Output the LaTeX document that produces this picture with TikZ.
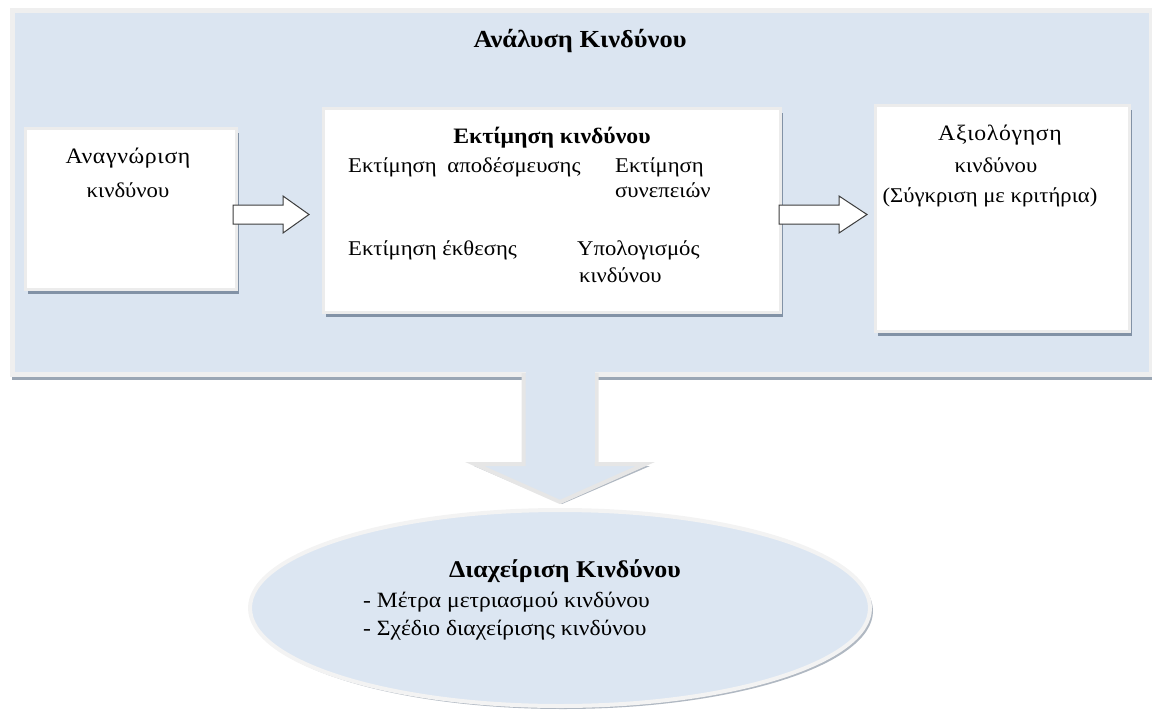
\documentclass[tikz,border=0pt]{standalone}
\usepackage{fontspec}
\setmainfont{Liberation Serif}[FakeStretch=1.08]
\usetikzlibrary{calc,shapes.geometric,shadows}
\definecolor{panelc}{HTML}{DBE5F1}
\definecolor{paneledge}{HTML}{EFEFEF}
\definecolor{panelshadow}{HTML}{9AA6B4}
\definecolor{boxedge}{HTML}{ECECEC}
\definecolor{boxshadow}{HTML}{8292A6}
\definecolor{arrowline}{HTML}{3C3C3C}
\definecolor{ellc}{HTML}{DCE6F2}
\definecolor{elledge}{HTML}{F3F3F3}
\definecolor{ellshadow}{HTML}{B0B8C2}
\definecolor{darrowedge}{HTML}{E6E6E6}
\begin{document}
\begin{tikzpicture}[x=1pt,y=-1pt,
  panelbox/.style={draw=paneledge, line width=5pt, fill=panelc, anchor=north west, inner sep=0pt},
  stagebox/.style={draw=boxedge, line width=3pt, fill=white, anchor=north west, inner sep=0pt,
    drop shadow={shadow xshift=2.5pt, shadow yshift=-4pt, fill=boxshadow, opacity=1}},
  blockarrow/.style={draw=arrowline, line width=1pt, fill=white, line join=miter},
  downarrow/.style={draw=darrowedge, line width=4pt, fill=panelc, line join=miter},
  goalell/.style={ellipse, draw=elledge, line width=4pt, fill=ellc, inner sep=0pt,
    drop shadow={shadow xshift=3pt, shadow yshift=-3pt, fill=ellshadow, opacity=1}},
  txt/.style={font=\fontsize{21}{25}\selectfont, inner sep=0pt, text=black},
  widetxt/.style={font=\fontsize{22}{26}\selectfont\addfontfeatures{LetterSpace=3}, inner sep=0pt, text=black},
  bullettxt/.style={font=\fontsize{21.8}{26}\selectfont, inner sep=0pt, text=black},
  headtxt/.style={font=\fontsize{24.5}{29}\selectfont\bfseries, inner sep=0pt, text=black},
  midhead/.style={font=\fontsize{22}{26}\selectfont\bfseries, inner sep=0pt, text=black}]
\useasboundingbox (0,0) rectangle (1152,718);
% outer panel
\fill[panelshadow] (12,370) rectangle (1152,380);
\node[panelbox, minimum width=1139pt, minimum height=364pt] (panel) at (10,8) {};
\node[headtxt, anchor=base] (ttl) at (580,47) {Ανάλυση Κινδύνου};
% stage boxes
\node[stagebox, minimum width=211pt, minimum height=161pt] (left) at (24,127) {};
\node[stagebox, minimum width=457pt, minimum height=204pt] (mid) at (322,107) {};
\node[stagebox, minimum width=254pt, minimum height=226pt] (right) at (874,104) {};
% texts of the boxes
\node[widetxt, anchor=base] (l1) at (128,163) {Αναγνώριση};
\node[txt, anchor=base] (l2) at (128,197) {κινδύνου};
\node[midhead, anchor=base] (m0) at (552,143) {Εκτίμηση κινδύνου};
\node[txt, anchor=base west] (m1) at (348,172) {Εκτίμηση\hspace{5pt} αποδέσμευσης};
\node[txt, anchor=base west] (m2) at (615,172) {Εκτίμηση};
\node[txt, anchor=base west] (m3) at (615,197) {συνεπειών};
\node[txt, anchor=base west] (m4) at (348,255) {Εκτίμηση έκθεσης};
\node[txt, anchor=base west] (m5) at (577,255) {Υπολογισμός};
\node[txt, anchor=base west] (m6) at (579,282) {κινδύνου};
\node[widetxt, anchor=base] (r1) at (1000,140) {Αξιολόγηση};
\node[txt, anchor=base] (r2) at (996,172) {κινδύνου};
\node[txt, anchor=base] (r3) at (990,202) {(Σύγκριση με κριτήρια)};
% block arrows between boxes
\coordinate (a1s) at ($(left.east)+(-5,5.5)$);
\coordinate (a1e) at ($(mid.west)+(-13,4)$);
\coordinate (a2s) at ($(mid.east)+(-3,4)$);
\coordinate (a2e) at ($(right.west)+(-7,-4)$);
\draw[blockarrow] ($(a1s)+(0,-9.5)$) -- ($(a1e)+(-26,-9.5)$) -- ($(a1e)+(-26,-18.5)$) -- (a1e)
  -- ($(a1e)+(-26,18.5)$) -- ($(a1e)+(-26,9.5)$) -- ($(a1s)+(0,9.5)$) -- cycle;
\draw[blockarrow] ($(a2s)+(0,-9.5)$) -- ($(a2e)+(-28,-9.5)$) -- ($(a2e)+(-28,-18.5)$) -- (a2e)
  -- ($(a2e)+(-28,18.5)$) -- ($(a2e)+(-28,9.5)$) -- ($(a2s)+(0,9.5)$) -- cycle;
% goal ellipse
\node[goalell, minimum width=620pt, minimum height=196pt] (ell) at (560,608) {};
% down arrow from panel to ellipse
\coordinate (dtip) at ($(ell.north)+(0,-6)$);
\coordinate (dtop) at ($(dtip |- panel.south)+(0,-4)$);
\fill[ellshadow] ($(dtip)+(2,2)$) -- ($(dtip)+(-86,-36)$) -- ($(dtip)+(90,-36)$) -- cycle;
\draw[downarrow] ($(dtop)+(-36.5,0)$) -- ($(dtip)+(-36.5,-38)$) -- ($(dtip)+(-85.5,-38)$) -- (dtip)
  -- ($(dtip)+(85.5,-38)$) -- ($(dtip)+(36.5,-38)$) -- ($(dtop)+(36.5,0)$);
\fill[panelc] ($(dtop)+(-34.5,-2)$) rectangle ($(dtip)+(34.5,-40)$);
% ellipse texts
\node[headtxt, anchor=base, font=\fontsize{24}{29}\selectfont\bfseries] (e0) at (565,577) {Διαχείριση Κινδύνου};
\node[bullettxt, anchor=base west] (e1) at (363,607) {- Μέτρα μετριασμού κινδύνου};
\node[bullettxt, anchor=base west] (e2) at (363,635) {- Σχέδιο διαχείρισης κινδύνου};
\end{tikzpicture}
\end{document}
